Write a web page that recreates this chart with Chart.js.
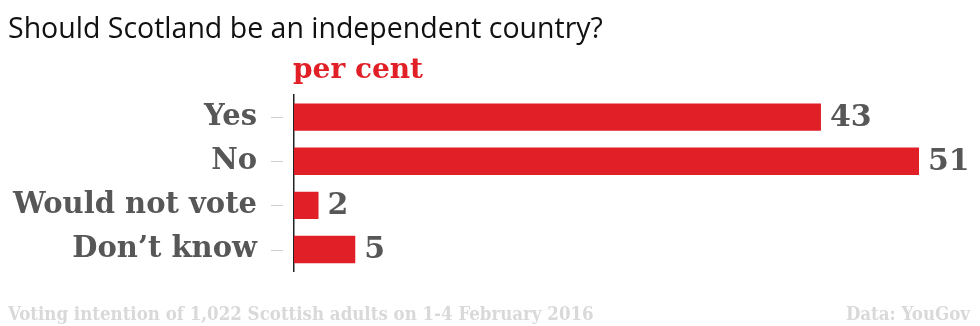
<!DOCTYPE html>
<html>
<head>
<meta charset="utf-8">
<script src="https://cdn.jsdelivr.net/npm/chart.js@4.4.0/dist/chart.umd.min.js"></script>
<style>
  html, body { margin: 0; padding: 0; background: #fff; }
  #wrap { position: relative; width: 980px; height: 326px; overflow: hidden; }
  #chart { position: absolute; left: 0; top: 0; }
  .txt { position: absolute; white-space: nowrap; line-height: 1; }
  #title { left: 8px; top: 8px; font: 28.5px "Open Sans", sans-serif; color: #111; }
  #unit { left: 293px; top: 52px; font: bold 28px "DejaVu Serif", serif; color: #e01f26; }
  #note { left: 8px; top: 303px; font: bold 18.5px "DejaVu Serif Condensed", "DejaVu Serif", serif; color: #d9d9d9; }
  #source { right: 10px; top: 303px; font: bold 18.5px "DejaVu Serif Condensed", "DejaVu Serif", serif; color: #d9d9d9; }
</style>
</head>
<body>
<div id="wrap">
  <canvas id="chart" width="980" height="326"></canvas>
  <div class="txt" id="title">Should Scotland be an independent country?</div>
  <div class="txt" id="unit">per cent</div>
  <div class="txt" id="note">Voting intention of 1,022 Scottish adults on 1-4 February 2016</div>
  <div class="txt" id="source">Data: YouGov</div>
</div>
<script>
  "use strict";

  // Data
  const categories = ["Yes", "No", "Would not vote", "Don’t know"];
  const perCent = [43, 51, 2, 5];

  const slab = '"DejaVu Serif", serif';
  const red = "#e01f26";
  const grey = "#575757";

  // value labels at bar ends + little tick dashes left of the axis
  const extras = {
    id: "extras",
    afterDatasetsDraw(chart) {
      const ctx = chart.ctx;
      const meta = chart.getDatasetMeta(0);
      ctx.save();
      ctx.font = "bold 30px " + slab;
      ctx.fillStyle = grey;
      ctx.textAlign = "left";
      ctx.textBaseline = "middle";
      meta.data.forEach(function (bar, i) {
        ctx.fillText(String(perCent[i]), bar.x + 9, bar.y + 1);
      });
      const yScale = chart.scales.y;
      ctx.strokeStyle = "#cfcfcf";
      ctx.lineWidth = 1;
      yScale.ticks.forEach(function (t, i) {
        const y = Math.round(yScale.getPixelForTick(i)) + 0.5;
        ctx.beginPath();
        ctx.moveTo(271, y);
        ctx.lineTo(283, y);
        ctx.stroke();
      });
      ctx.restore();
    }
  };

  const ctx = document.getElementById("chart").getContext("2d");
  const myChart = new Chart(ctx, {
    type: "bar",
    data: {
      labels: categories,
      datasets: [{
        data: perCent,
        backgroundColor: red,
        borderWidth: 0,
        barPercentage: 0.62,
        categoryPercentage: 1
      }]
    },
    options: {
      responsive: false,
      animation: false,
      indexAxis: "y",
      layout: { padding: { left: 0, right: 61, top: 95, bottom: 51 } },
      plugins: {
        legend: { display: false },
        tooltip: { enabled: false }
      },
      scales: {
        x: {
          display: false,
          min: 0,
          max: 51
        },
        y: {
          afterFit: function (scale) { scale.width = 294; },
          grid: { display: false, drawTicks: false },
          border: { display: true, color: "#222", width: 1.5 },
          ticks: {
            padding: 37,
            color: grey,
            font: { family: slab, size: 29, weight: "bold" }
          }
        }
      }
    },
    plugins: [extras]
  });
</script>
</body>
</html>
